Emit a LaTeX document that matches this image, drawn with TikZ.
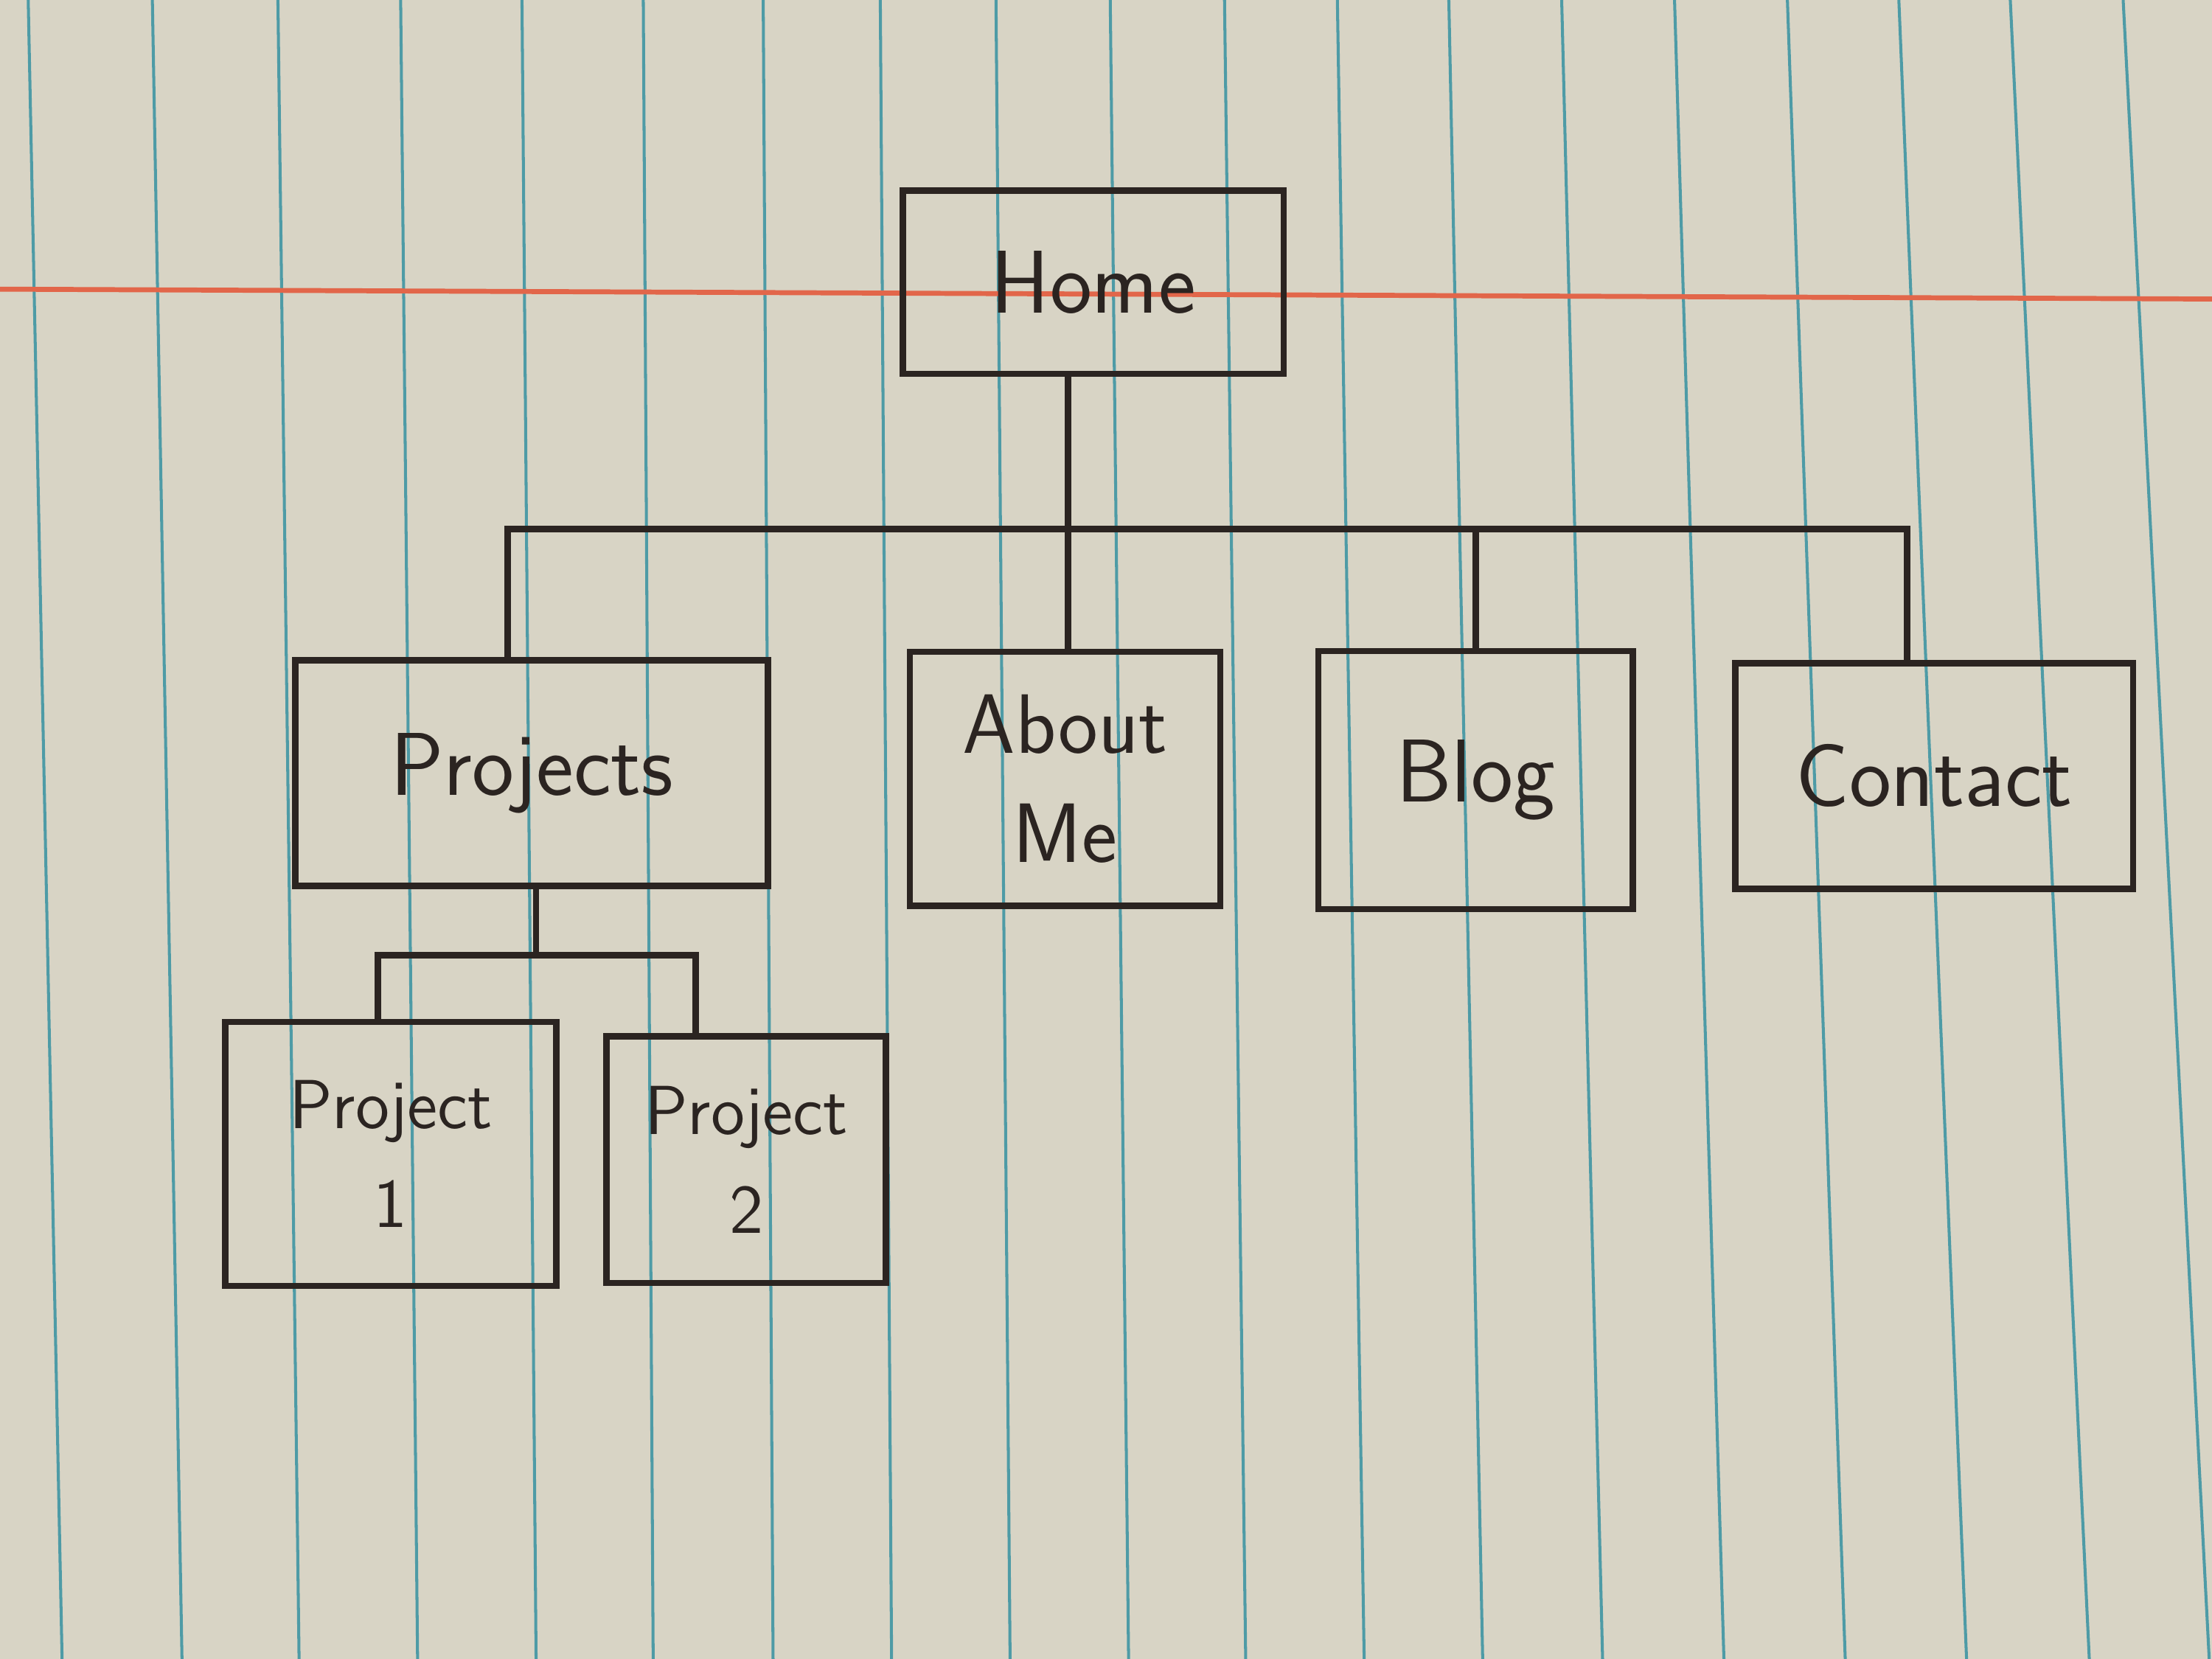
\documentclass[tikz,border=0pt]{standalone}
\usepackage{fontspec}
\definecolor{paper}{HTML}{D8D4C5}
\definecolor{rule}{HTML}{4E9BA6}
\definecolor{margin}{HTML}{E2664A}
\definecolor{ink}{HTML}{2B2421}
\begin{document}
\begin{tikzpicture}[
  page/.style 2 args={draw, line width=1.3pt, color=ink, rectangle, align=center,
    text=ink, font=\sffamily\fontsize{#1}{#2}\selectfont},
  wire/.style={draw=ink, line width=1.3pt}
]
\useasboundingbox (0,0) rectangle (15.68,11.76);
\fill[paper] (0,0) rectangle (15.68,11.76);
% ruled paper
\foreach \xt/\xb in {0.20/0.44, 1.08/1.29, 1.97/2.12, 2.84/2.96, 3.70/3.80, 4.56/4.63,
  5.41/5.48, 6.24/6.32, 7.06/7.16, 7.87/8.00, 8.68/8.83, 9.48/9.67, 10.27/10.51,
  11.07/11.36, 11.87/12.22, 12.67/13.08, 13.46/13.94, 14.25/14.81, 15.05/15.66}
  \draw[rule, line width=0.6pt] (\xt,11.76) -- (\xb,0);
\draw[margin, line width=1pt] (0,9.71) -- (15.68,9.64);
% boxes
\node[page={18}{22}, minimum width=2.7cm, minimum height=1.3cm] (home) at (7.75,9.76) {Home};
\node[page={18}{22}, minimum width=3.35cm, minimum height=1.6cm] (projects) at (3.77,6.28) {Projects};
\node[page={17}{22}, minimum width=2.2cm, minimum height=1.8cm] (about) at (7.55,6.24) {About\\Me};
\node[page={18}{22}, minimum width=2.23cm, minimum height=1.83cm] (blog) at (10.46,6.23) {Blog};
\node[page={18}{22}, minimum width=2.82cm, minimum height=1.6cm] (contact) at (13.71,6.26) {Contact};
\node[page={14}{20}, minimum width=2.35cm, minimum height=1.87cm] (proj1) at (2.77,3.58) {Project\\1};
\node[page={14}{20}, minimum width=1.98cm, minimum height=1.75cm] (proj2) at (5.29,3.54) {Project\\2};
% links
\coordinate (hub) at (7.57,8.01);
\coordinate (subhub) at (3.80,4.99);
\draw[wire] (home.south -| hub) -- (hub);
\draw[wire] ([xshift=-1.7mm]projects.north) |- (hub) -| ([xshift=-1.9mm]contact.north);
\draw[wire] (hub) -- (hub |- about.north);
\draw[wire] (blog.north) -- (blog.north |- hub);
\draw[wire] (projects.south -| subhub) -- (subhub);
\draw[wire] ([xshift=-0.9mm]proj1.north) |- (subhub) -| ([xshift=-3.6mm]proj2.north);
\end{tikzpicture}
\end{document}
